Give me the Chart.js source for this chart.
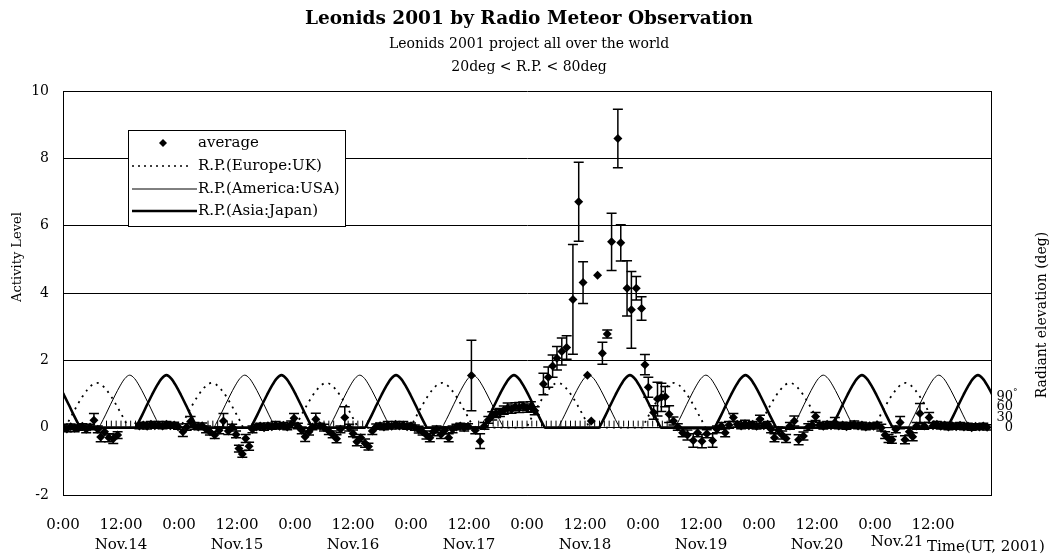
<!DOCTYPE html>
<html><head><meta charset="utf-8">
<script src="https://cdn.jsdelivr.net/npm/chart.js@4/dist/chart.umd.min.js"></script>
<style>html,body{margin:0;padding:0;background:#fff}#wrap{width:1056px;height:559px}</style>
</head><body><div id="wrap"><canvas id="c" width="1056" height="559"></canvas></div>
<script>
// ---- data ----
const avgHours = [0.0,0.8,1.6,2.4,3.2,4.0,4.8,5.6,6.4,7.2,7.8,8.6,9.5,10.4,11.3,
15.8,16.6,17.4,18.2,19.0,19.8,20.6,21.4,22.2,23.0,23.8,24.8,25.6,26.4,27.2,28.0,28.8,29.6,30.4,31.4,32.3,33.2,34.2,35.0,35.8,36.4,37.1,37.8,38.5,39.2,
40.0,40.8,41.6,42.4,43.2,44.0,44.8,45.6,46.4,47.2,47.8,48.6,49.4,50.1,50.9,51.6,52.3,53.2,54.0,55.0,55.8,56.6,57.4,58.3,59.2,60.0,60.8,61.6,62.5,63.2,
64.0,64.8,65.6,66.4,67.2,68.0,68.8,69.6,70.4,71.2,72.0,72.8,73.6,74.4,75.2,75.9,76.6,77.3,78.2,79.0,79.8,80.6,81.4,82.2,83.0,83.8,84.5,85.3,86.3,87.2,
88.0,88.8,89.6,90.4,91.2,92.0,92.8,93.6,94.4,95.2,96.0,96.8,97.6,99.4,100.4,101.3,102.2,103.2,104.2,105.5,106.7,107.6,108.5,109.3,110.6,111.6,112.6,
113.5,114.8,115.4,116.7,117.6,118.6,119.7,120.4,121.1,122.2,123.0,123.8,124.6,125.4,126.3,127.2,128.2,129.2,130.4,131.3,132.2,133.2,134.4,135.3,136.2,
137.0,137.8,138.7,139.5,140.3,141.1,141.9,142.7,143.5,144.2,145.0,145.8,146.5,147.2,148.0,148.8,149.6,150.4,151.3,152.2,153.2,154.2,155.0,155.7,156.5,
157.3,158.1,158.9,159.7,160.5,161.3,162.1,162.9,163.7,164.5,165.3,166.1,166.9,167.7,168.5,169.3,170.1,170.8,171.5,172.3,173.2,174.2,175.1,175.8,176.6,
177.3,178.2,179.2,180.0,180.8,181.6,182.4,183.2,184.0,184.8,185.6,186.4,187.2,188.0,188.8,189.6,190.4,191.2];
const avgValues = [0.02,-0.04,0.03,-0.02,0.0,0.04,-0.05,0.02,0.22,-0.05,-0.28,-0.12,-0.3,-0.33,-0.22,
0.05,0.08,0.04,0.1,0.06,0.08,0.05,0.1,0.06,0.08,0.03,-0.12,0.02,0.18,0.05,0.02,0.06,-0.05,-0.12,-0.22,-0.08,0.2,-0.1,0.02,-0.2,-0.62,-0.78,-0.32,-0.55,-0.05,
0.02,0.05,0.0,0.06,0.03,0.08,0.04,0.07,0.02,0.1,0.28,0.05,-0.08,-0.27,-0.12,0.02,0.25,0.05,0.0,-0.1,-0.2,-0.33,-0.05,0.3,0.0,-0.17,-0.42,-0.3,-0.46,-0.56,
-0.1,0.03,0.06,0.02,0.08,0.04,0.1,0.05,0.08,0.03,0.06,0.0,-0.06,-0.12,-0.22,-0.3,-0.12,-0.05,-0.2,-0.08,-0.3,-0.05,0.02,0.05,0.0,0.04,1.55,-0.08,-0.4,0.05,
0.23,0.35,0.42,0.45,0.52,0.58,0.55,0.62,0.6,0.64,0.58,0.62,0.5,1.3,1.5,1.83,2.06,2.26,2.38,3.81,6.71,4.31,1.56,0.2,4.53,2.21,2.78,
5.52,8.59,5.49,4.14,3.5,4.14,3.54,1.87,1.2,0.45,0.85,0.9,0.92,0.4,0.2,0.02,-0.15,-0.22,-0.38,-0.15,-0.4,-0.18,-0.38,-0.05,0.05,
-0.15,0.08,0.3,0.1,0.05,0.12,0.06,0.1,0.04,0.25,0.06,0.1,-0.05,-0.3,-0.08,-0.22,-0.32,0.05,0.2,-0.36,-0.25,0.02,0.08,0.33,0.08,
0.04,0.1,0.06,0.15,0.05,0.08,0.03,0.07,0.1,0.05,0.08,0.02,0.06,0.04,0.08,0.0,-0.22,-0.32,-0.36,-0.05,0.15,-0.36,-0.12,-0.27,0.05,
0.42,0.05,0.3,0.06,0.1,0.04,0.08,0.02,0.06,0.03,0.07,0.02,0.05,0.0,0.04,0.02,0.05,0.01];
const avgErrors = [0.08,0.08,0.08,0.1,0.08,0.08,0.1,0.08,0.2,0.1,0.14,0.1,0.12,0.14,0.1,
0.08,0.08,0.08,0.08,0.08,0.1,0.08,0.08,0.08,0.08,0.08,0.14,0.1,0.15,0.1,0.08,0.08,0.1,0.1,0.1,0.1,0.22,0.1,0.08,0.1,0.1,0.1,0.12,0.12,0.1,
0.08,0.08,0.08,0.08,0.08,0.1,0.08,0.08,0.08,0.1,0.14,0.08,0.1,0.14,0.1,0.08,0.18,0.08,0.1,0.1,0.1,0.12,0.1,0.32,0.1,0.1,0.12,0.1,0.12,0.1,
0.1,0.08,0.08,0.08,0.1,0.08,0.08,0.08,0.1,0.08,0.08,0.08,0.1,0.1,0.12,0.12,0.12,0.1,0.12,0.1,0.12,0.1,0.08,0.08,0.1,0.08,1.05,0.1,0.22,0.1,
0.1,0.12,0.12,0.12,0.12,0.15,0.12,0.12,0.15,0.12,0.12,0.15,0.12,0.32,0.3,0.33,0.35,0.4,0.35,1.63,1.17,0.62,0,0,0,0.33,0.12,
0.85,0.87,0.54,0.82,1.14,0.35,0.35,0.3,0.3,0.2,0.5,0.42,0.3,0.25,0.12,0.1,0.12,0.15,0.2,0.12,0.2,0.12,0.2,0.1,0.1,
0.12,0.1,0.12,0.08,0.08,0.1,0.08,0.08,0.08,0.12,0.08,0.08,0.1,0.12,0.1,0.12,0.12,0.1,0.15,0.15,0.12,0.1,0.1,0.12,0.08,
0.08,0.08,0.08,0.15,0.08,0.08,0.08,0.08,0.1,0.08,0.08,0.08,0.08,0.08,0.08,0.1,0.1,0.12,0.1,0.1,0.18,0.12,0.1,0.12,0.1,
0.3,0.1,0.15,0.08,0.08,0.08,0.08,0.08,0.08,0.08,0.08,0.08,0.08,0.08,0.08,0.08,0.08,0.08];

// radiant-point curves: peak times (hours from Nov.14 0:00 UT) and peak shape
const ukPeakHours    = [7.0, 30.8, 54.5, 78.4, 102.4, 126.4, 150.4, 174.3];
const usaPeakHours   = [13.8, 37.6, 61.4, 84.8, 108.8, 133.0, 157.3, 181.2];
const japanPeakHours = [-2.8, 21.4, 45.2, 68.9, 93.3, 117.3, 141.2, 165.3, 189.3];
const ukShapeOffsets  = [-6.6,-6,-5,-4,-3,-2,-1,0,1,2,3,4,5,6,6.6];
const ukShapeValues   = [0,0.15,0.42,0.68,0.92,1.12,1.27,1.33,1.27,1.12,0.92,0.68,0.42,0.15,0];
const hiShapeOffsets  = [-6.4,-6,-5,-4,-3,-2,-1,0,1,2,3,4,5,6,6.4];
const hiShapeValues   = [0,0.1,0.38,0.68,0.97,1.24,1.46,1.56,1.46,1.24,0.97,0.68,0.38,0.1,0];
// hours of the small hatch marks along zero
const hatchHours = [9,10,11,12,13,14,15,30,31,32,33,34,35,52,53,54,55,56,59,60,61,62,63,
86,87,88,89,90,91,92,93,94,95,96,97,98,99,100,101,102,103,104,105,106,107,108,109,110,111,112,113,114,115,116,117,118,119,120,121,122,123,124,125];

const timeTickLabels = ['0:00','12:00'];
const dateLabels = ['Nov.14','Nov.15','Nov.16','Nov.17','Nov.18','Nov.19','Nov.20','Nov.21'];
const rightTickValues = [0,30,60,90];
const rightTickLabels = ['0','30','60','90'];

// ---- build datasets ----
function curve(peaks, offs, vals){
  const pts=[];
  peaks.forEach(p=>offs.forEach((o,i)=>pts.push({x:p+o,y:vals[i]})));
  return pts;
}
const avgPts = avgHours.map((h,i)=>({x:h,y:avgValues[i]}));
const hatchPts = hatchHours.map(h=>({x:h,y:0.12}));
const F = 'DejaVu Serif';

const deco = {
  id:'deco',
  beforeDatasetDraw(chart,args){
    if(args.index!==0) return;
    const ctx=chart.ctx, xs=chart.scales.x, ys=chart.scales.y, a=chart.chartArea;
    ctx.save();
    ctx.beginPath(); ctx.rect(a.left,a.top,a.right-a.left,a.bottom-a.top); ctx.clip();
    ctx.strokeStyle='#000'; ctx.lineWidth=1.5;
    avgHours.forEach((h,i)=>{
      const e=avgErrors[i]; if(!e) return;
      const x=xs.getPixelForValue(h), y1=ys.getPixelForValue(avgValues[i]+e), y2=ys.getPixelForValue(avgValues[i]-e);
      ctx.beginPath();
      ctx.moveTo(x,y1); ctx.lineTo(x,y2);
      ctx.moveTo(x-5,y1); ctx.lineTo(x+5,y1);
      ctx.moveTo(x-5,y2); ctx.lineTo(x+5,y2);
      ctx.stroke();
    });
    ctx.restore();
  },
  afterDraw(chart){
    const ctx=chart.ctx, xs=chart.scales.x, y2=chart.scales.y2;
    ctx.save();
    ctx.fillStyle='#000';
    ctx.textAlign='center'; ctx.textBaseline='middle';
    ctx.font='bold 18.5px "'+F+'"';
    ctx.fillText('Leonids 2001 by Radio Meteor Observation',529,19);
    ctx.font='14px "'+F+'"';
    ctx.fillText('Leonids 2001 project all over the world',529,44);
    ctx.fillText('20deg < R.P. < 80deg',529,67);
    // date labels
    ctx.font='15px "'+F+'"';
    dateLabels.forEach((d,i)=>{
      let x=xs.getPixelForValue(12+24*i), y=545;
      if(i===dateLabels.length-1){ x-=36; y=542; }
      ctx.fillText(d,x,y);
    });
    ctx.textAlign='left';
    ctx.fillText('Time(UT, 2001)',927,547);
    // right ticks
    ctx.font='13px "'+F+'"'; ctx.textAlign='right';
    rightTickValues.forEach((v,i)=>{
      const y=y2.getPixelForValue(v);
      ctx.fillText(rightTickLabels[i],1013,y);
      if(v===90){ ctx.textAlign='left'; ctx.font='9px "'+F+'"'; ctx.fillText('°',1013,y-4); ctx.textAlign='right'; ctx.font='13px "'+F+'"'; }
    });
    // axis titles
    ctx.textAlign='center';
    ctx.font='13px "'+F+'"';
    ctx.save(); ctx.translate(18,257); ctx.rotate(-Math.PI/2); ctx.fillText('Activity Level',0,0); ctx.restore();
    ctx.font='14px "'+F+'"';
    ctx.save(); ctx.translate(1042,315); ctx.rotate(-Math.PI/2); ctx.fillText('Radiant elevation (deg)',0,0); ctx.restore();
    // legend
    ctx.fillStyle='#fff'; ctx.fillRect(128,130,217,96);
    ctx.strokeStyle='#000'; ctx.lineWidth=1; ctx.strokeRect(128.5,130.5,217,96);
    ctx.fillStyle='#000';
    ctx.beginPath(); ctx.moveTo(163,139); ctx.lineTo(167,143); ctx.lineTo(163,147); ctx.lineTo(159,143); ctx.closePath(); ctx.fill();
    ctx.setLineDash([2,4]); ctx.lineWidth=1.6; ctx.beginPath(); ctx.moveTo(132,166); ctx.lineTo(192,166); ctx.stroke();
    ctx.setLineDash([]); ctx.lineWidth=1; ctx.beginPath(); ctx.moveTo(132,189); ctx.lineTo(197,189); ctx.stroke();
    ctx.lineWidth=2.5; ctx.beginPath(); ctx.moveTo(132,211); ctx.lineTo(197,211); ctx.stroke();
    ctx.font='15px "'+F+'"'; ctx.textAlign='left';
    ctx.fillText('average',198,143);
    ctx.fillText('R.P.(Europe:UK)',198,166);
    ctx.fillText('R.P.(America:USA)',198,189);
    ctx.fillText('R.P.(Asia:Japan)',198,211);
    ctx.restore();
  }
};

new Chart(document.getElementById('c'),{
  type:'scatter',
  data:{datasets:[
    {label:'average',data:avgPts,order:0,pointStyle:'rectRot',radius:4.5,backgroundColor:'#000',borderColor:'#000',borderWidth:0,showLine:false},
    {label:'R.P.(Europe:UK)',data:curve(ukPeakHours,ukShapeOffsets,ukShapeValues),order:1,showLine:true,pointRadius:0,borderColor:'#000',borderWidth:1.8,borderDash:[2,5],cubicInterpolationMode:'monotone'},
    {label:'R.P.(America:USA)',data:curve(usaPeakHours,hiShapeOffsets,hiShapeValues),order:2,showLine:true,pointRadius:0,borderColor:'#000',borderWidth:1,cubicInterpolationMode:'monotone'},
    {label:'R.P.(Asia:Japan)',data:curve(japanPeakHours,hiShapeOffsets,hiShapeValues),order:3,showLine:true,pointRadius:0,borderColor:'#000',borderWidth:2.6,cubicInterpolationMode:'monotone'},
    {label:'hatch',data:hatchPts,order:4,pointStyle:'line',rotation:90,radius:3,borderColor:'#000',borderWidth:1,showLine:false}
  ]},
  options:{
    responsive:false,animation:false,devicePixelRatio:1,
    layout:{padding:{top:91,left:0,right:0,bottom:0}},
    plugins:{legend:{display:false},tooltip:{enabled:false}},
    scales:{
      x:{type:'linear',min:0,max:192,
        afterFit(s){s.height=64;},
        afterBuildTicks(s){s.ticks=[];for(let v=0;v<=192;v+=12)s.ticks.push({value:v});},
        ticks:{autoSkip:false,maxRotation:0,padding:13,color:'#000',font:{family:F,size:15},
          callback:(v)=> v>=192?'':timeTickLabels[(v/12)%2]},
        grid:{display:false},border:{display:true,color:'#000',width:1}},
      y:{min:-2,max:10,position:'left',
        afterFit(s){s.width=63;},
        ticks:{stepSize:2,padding:14,color:'#000',font:{family:F,size:14}},
        grid:{color:'#000',lineWidth:1,drawTicks:false},border:{display:true,color:'#000',width:1}},
      y2:{min:-194,max:971,position:'right',
        afterFit(s){s.width=65;},
        ticks:{display:false},
        grid:{display:false},border:{display:true,color:'#000',width:1}}
    }
  },
  plugins:[deco]
});
</script></body></html>
